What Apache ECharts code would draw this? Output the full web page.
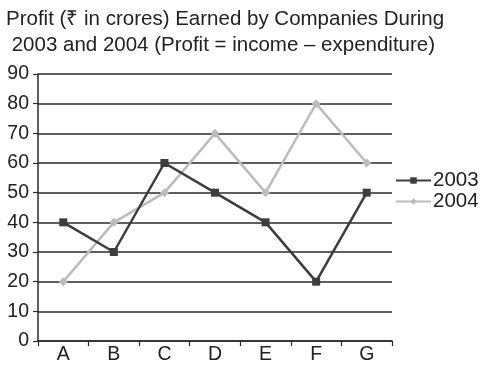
<!DOCTYPE html>
<html>
<head>
<meta charset="utf-8">
<script src="https://cdn.jsdelivr.net/npm/echarts@6/dist/echarts.min.js"></script>
<style>
  html, body { margin: 0; padding: 0; background: #fff; }
  #chart { width: 480px; height: 365px; }
</style>
</head>
<body>
<div id="chart"></div>
<script>
// Companies on the category axis
const companies = ['A', 'B', 'C', 'D', 'E', 'F', 'G'];
// Profit in crores for each year
const profit2003 = [40, 30, 60, 50, 40, 20, 50];
const profit2004 = [20, 40, 50, 70, 50, 80, 60];
// Value axis range
const yMin = 0, yMax = 90, yStep = 10;

const FONT = '"Liberation Sans", Arial, Helvetica, sans-serif';
const TEXT = '#222';

const chart = echarts.init(document.getElementById('chart'), null, { renderer: 'canvas' });

chart.setOption({
  animation: false,
  backgroundColor: '#fff',
  title: {
    text: 'Profit (₹ in crores) Earned by Companies During\n 2003 and 2004 (Profit = income – expenditure)',
    left: 1,
    top: 1,
    textStyle: {
      fontFamily: FONT,
      fontSize: 20.5,
      fontWeight: 'normal',
      color: TEXT,
      lineHeight: 26
    }
  },
  legend: {
    orient: 'vertical',
    left: 390,
    top: 165,
    itemWidth: 35,
    itemHeight: 8,
    itemGap: 0,
    textStyle: { fontFamily: FONT, fontSize: 20.5, color: TEXT, lineHeight: 20, padding: [0, 0, 0, -3] },
    data: ['2003', '2004']
  },
  grid: { left: 38, right: 88, top: 74, bottom: 24, containLabel: false },
  xAxis: {
    type: 'category',
    data: companies,
    boundaryGap: true,
    axisLine: { show: true, lineStyle: { color: '#2a2a2a', width: 1.5 } },
    axisTick: { show: true, length: 5, lineStyle: { color: '#2a2a2a', width: 1.2 } },
    axisLabel: { fontFamily: FONT, fontSize: 19.5, color: TEXT, margin: 4 },
    splitLine: { show: false }
  },
  yAxis: {
    type: 'value',
    min: yMin,
    max: yMax,
    interval: yStep,
    axisLine: { show: true, lineStyle: { color: '#2a2a2a', width: 1.5 } },
    axisTick: { show: true, length: 5, lineStyle: { color: '#2a2a2a', width: 1.2 } },
    axisLabel: { fontFamily: FONT, fontSize: 19.5, color: TEXT, margin: 9 },
    splitLine: { show: true, lineStyle: { color: '#2a2a2a', width: 1.5 } }
  },
  series: [
    {
      name: '2003',
      type: 'line',
      data: profit2003,
      symbol: 'rect',
      symbolSize: 8,
      lineStyle: { color: '#3d3d3d', width: 2.5 },
      itemStyle: { color: '#3d3d3d' },
      z: 3
    },
    {
      name: '2004',
      type: 'line',
      data: profit2004,
      symbol: 'diamond',
      symbolSize: 9,
      lineStyle: { color: '#bcbcbc', width: 2.5 },
      itemStyle: { color: '#bcbcbc' },
      z: 2
    }
  ]
});
</script>
</body>
</html>
